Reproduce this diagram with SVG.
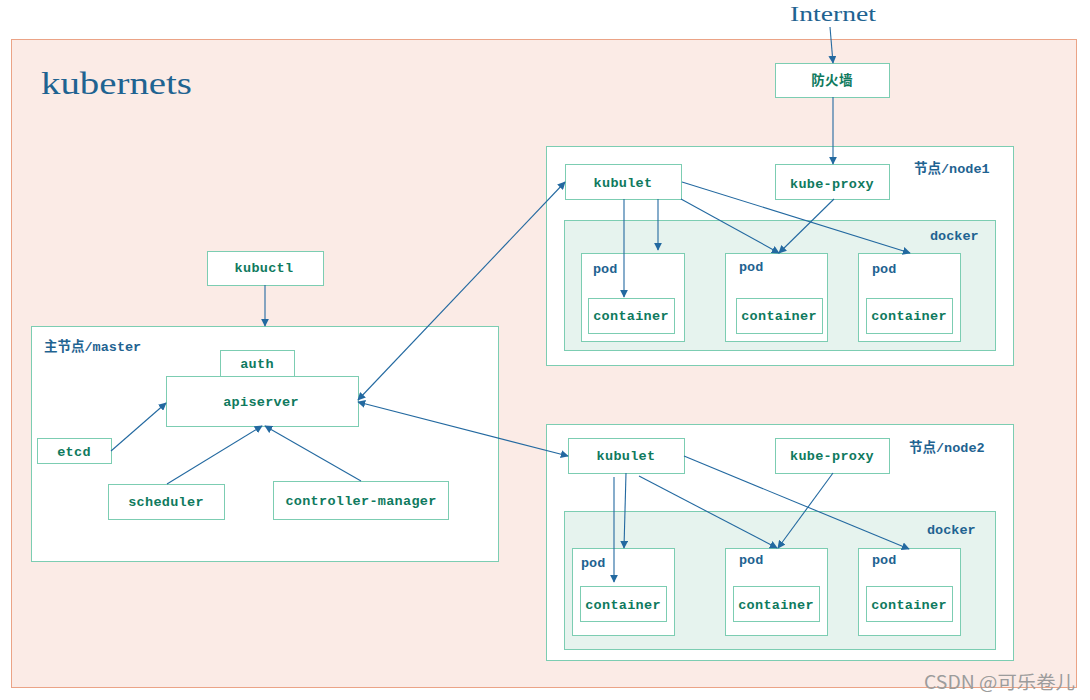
<svg xmlns="http://www.w3.org/2000/svg" width="1090" height="700" viewBox="0 0 1090 700">
<defs>
<marker id="ah" viewBox="0 0 10 10" refX="9" refY="5" markerWidth="8" markerHeight="8" markerUnits="userSpaceOnUse" orient="auto-start-reverse">
<path d="M0,0 L10,5 L0,10 z" fill="#2369a0"/>
</marker>
<style>
.box{fill:#fff;stroke:#7ccdb2;stroke-width:1}
.dock{fill:#e6f3ee;stroke:#7ccdb2;stroke-width:1}
.t{font-family:"Liberation Mono","Noto Sans CJK SC",monospace;font-weight:bold;font-size:13.5px;fill:#0f7a5e;text-anchor:middle;letter-spacing:0.3px}
.lb{font-family:"Liberation Mono","Noto Sans CJK SC",monospace;font-weight:bold;font-size:13.5px;fill:#1f6391}
.c{fill:none;stroke:#2369a0;stroke-width:1.1;marker-end:url(#ah)}
</style>
</defs>
<rect x="0" y="0" width="1090" height="700" fill="#fff"/>
<g id="cluster">
<rect x="11.5" y="39.5" width="1065" height="648" fill="#fbebe6" stroke="#eba386"/>
<text x="41" y="94" font-family="Liberation Serif,serif" font-size="31" fill="#1f6391" textLength="151" lengthAdjust="spacingAndGlyphs">kubernets</text>
</g>
<text id="internet" x="790" y="21" font-family="Liberation Serif,serif" font-size="20" fill="#1f6391" textLength="86" lengthAdjust="spacingAndGlyphs">Internet</text>
<g id="firewall"><rect class="box" x="775.5" y="63.5" width="114" height="34"/><text class="t" x="832" y="85">防火墙</text></g>

<g id="node1">
<rect class="box" x="546.5" y="146.5" width="467" height="219"/>
<text class="lb" x="914" y="173">节点/node1</text>
</g>
<g id="node1-kubulet"><rect class="box" x="565.5" y="164.5" width="116" height="35"/><text class="t" x="623" y="187">kubulet</text></g>
<g id="node1-kubeproxy"><rect class="box" x="775.5" y="164.5" width="114" height="35"/><text class="t" x="832" y="188">kube-proxy</text></g>
<g id="node1-docker"><rect class="dock" x="564.5" y="220.5" width="431" height="130"/><text class="lb" x="930" y="240">docker</text></g>
<g id="node1-pod1"><rect class="box" x="581.5" y="253.5" width="103" height="88"/><text class="lb" x="593" y="273">pod</text><rect class="box" x="588.5" y="298.5" width="86" height="35"/><text class="t" x="631" y="320">container</text></g>
<g id="node1-pod2"><rect class="box" x="725.5" y="253.5" width="102" height="88"/><text class="lb" x="739" y="271">pod</text><rect class="box" x="736.5" y="298.5" width="86" height="35"/><text class="t" x="779" y="320">container</text></g>
<g id="node1-pod3"><rect class="box" x="858.5" y="253.5" width="102" height="88"/><text class="lb" x="872" y="273">pod</text><rect class="box" x="866.5" y="298.5" width="86" height="35"/><text class="t" x="909" y="320">container</text></g>

<g id="node2">
<rect class="box" x="546.5" y="424.5" width="467" height="236"/>
<text class="lb" x="909" y="452">节点/node2</text>
</g>
<g id="node2-kubulet"><rect class="box" x="568.5" y="438.5" width="116" height="35"/><text class="t" x="626" y="460">kubulet</text></g>
<g id="node2-kubeproxy"><rect class="box" x="775.5" y="438.5" width="114" height="35"/><text class="t" x="832" y="460">kube-proxy</text></g>
<g id="node2-docker"><rect class="dock" x="564.5" y="511.5" width="431" height="138"/><text class="lb" x="927" y="534">docker</text></g>
<g id="node2-pod1"><rect class="box" x="572.5" y="548.5" width="102" height="87"/><text class="lb" x="581" y="567">pod</text><rect class="box" x="580.5" y="586.5" width="86" height="35"/><text class="t" x="623" y="609">container</text></g>
<g id="node2-pod2"><rect class="box" x="725.5" y="548.5" width="102" height="87"/><text class="lb" x="739" y="564">pod</text><rect class="box" x="733.5" y="586.5" width="86" height="35"/><text class="t" x="776" y="609">container</text></g>
<g id="node2-pod3"><rect class="box" x="858.5" y="548.5" width="102" height="87"/><text class="lb" x="872" y="564">pod</text><rect class="box" x="866.5" y="586.5" width="86" height="35"/><text class="t" x="909" y="609">container</text></g>

<g id="kubuctl"><rect class="box" x="207.5" y="251.5" width="116" height="34"/><text class="t" x="264" y="272">kubuctl</text></g>
<g id="master">
<rect class="box" x="31.5" y="326.5" width="467" height="235"/>
<text class="lb" x="44" y="351">主节点/master</text>
</g>
<g id="auth"><rect class="box" x="220.5" y="350.5" width="74" height="26"/><text class="t" x="257" y="368">auth</text></g>
<g id="apiserver"><rect class="box" x="166.5" y="376.5" width="192" height="50"/><text class="t" x="261" y="406">apiserver</text></g>
<g id="etcd"><rect class="box" x="37.5" y="438.5" width="74" height="25"/><text class="t" x="74" y="456">etcd</text></g>
<g id="scheduler"><rect class="box" x="108.5" y="484.5" width="116" height="35"/><text class="t" x="166" y="506">scheduler</text></g>
<g id="controller-manager"><rect class="box" x="273.5" y="481.5" width="175" height="38"/><text class="t" x="361" y="505">controller-manager</text></g>

<g id="connectors">
<path class="c" d="M830,27 L833,63"/>
<path class="c" d="M833,97 L833,164"/>
<path class="c" d="M624,199 L624,297"/>
<path class="c" d="M658,199 L658,250"/>
<path class="c" d="M681,199 L779,253"/>
<path class="c" d="M682,182 L910,253"/>
<path class="c" d="M834,199 L779,253"/>
<path class="c" d="M614,477 L614,582"/>
<path class="c" d="M626,473 L624,548"/>
<path class="c" d="M639,476 L777,548"/>
<path class="c" d="M684,456 L909,549"/>
<path class="c" d="M833,473 L778,548"/>
<path class="c" d="M265,285 L265,326"/>
<path class="c" d="M111,451 L166,403"/>
<path class="c" d="M167,484 L262,426"/>
<path class="c" d="M361,481 L265,426"/>
<path class="c" d="M358,400 L565,182" marker-start="url(#ah)"/>
<path class="c" d="M358,402 L568,456" marker-start="url(#ah)"/>
</g>
<text id="watermark" x="924" y="689" font-family="Noto Sans CJK SC,sans-serif" font-size="18" fill="#9c9c9c" textLength="151" lengthAdjust="spacingAndGlyphs">CSDN @可乐卷儿</text>
</svg>
